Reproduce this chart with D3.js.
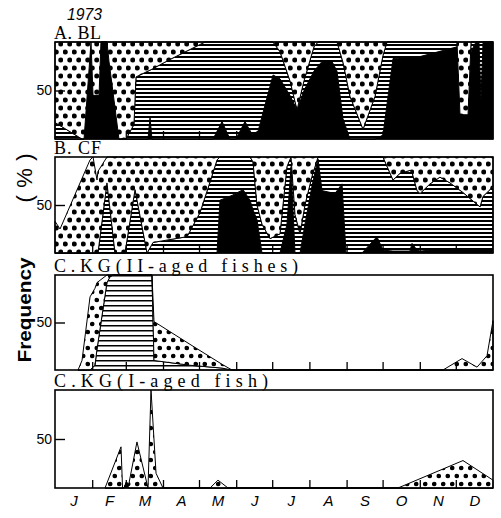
<!DOCTYPE html>
<html>
<head>
<meta charset="utf-8">
<script src="https://cdnjs.cloudflare.com/ajax/libs/d3/7.8.5/d3.min.js"></script>
<style>
  body { margin: 0; background: #fff; }
</style>
</head>
<body>
<div id="chart"></div>
<script>
// month ticks (day of year) and labels
const monthLabels = ["J","F","M","A","M","J","J","A","S","O","N","D"];
const monthStarts = [0,31,59,90,120,151,181,212,243,273,304,334,365];

// A. BL  (percent of black / hatched / dotted, white = rest)
const blDays  = [0,22.5,24.2,30,31.7,36.7,38.3,43.3,45,49.2,53.3,59.2,65.8,67.5,77.5,79.2,80.8,95.8,125,131.7,139.2,145.8,150.8,158.3,164.2,169.2,181.7,187.5,195.8,201.7,207.5,215.8,219.2,222.5,230.8,235,240,245.8,256.7,266.7,273.3,276.7,281.7,304.2,335,337.5,344.2,346.7,350.8,353.3,355,356.7,365];
const blBlack = [0,0,0,100,45,45,100,100,80,40,0,0,0,0,0,22,0,0,0,0,18,0,0,18,5,8,66,62,45,30,50,70,75,80,80,70,21,0,0,0,4,36,83,85,95,25,25,90,100,100,40,100,100];
const blHatch = [17,0,0,0,0,0,0,0,0,0,0,0,15,64,70,49,72,82,100,100,82,100,100,82,95,92,34,28,15,0,10,25,25,20,20,30,58,44,10,44,82,64,17,15,5,0,0,10,0,0,60,0,0];
const blDots  = [83,100,100,0,55,55,0,0,20,60,100,100,85,36,30,29,28,18,0,0,0,0,0,0,0,0,0,10,40,70,40,5,0,0,0,0,21,56,90,56,14,0,0,0,0,75,75,0,0,0,0,0,0];

// B. CF
const cfDays  = [0,4.2,29.2,31.7,35,35.8,43.3,50,58.3,66.7,76.7,81.7,110,120.8,129.2,135,137.5,147.5,156.7,162.5,165,168.3,172.5,179.2,187.5,193.3,196.7,200,204.2,208.3,214.2,219.2,222.5,233.3,239.2,242.5,255.8,268.3,273.3,281.7,287.5,295.8,297.5,301.7,304.2,312.5,320.8,329.2,340,354.2,356.7,362.5,365];
const cfBlack = [0,0,0,0,0,0,0,0,0,0,0,0,0,0,0,0,55,60,66,55,45,35,0,0,0,30,90,0,0,30,70,98,65,62,72,0,0,17,3,2,2,2,10,3,2,3,3,3,4,4,3,3,3];
const cfHatch = [0,0,0,0,0,0,73,0,0,66,0,11,17,42,74,97,45,40,34,45,50,15,30,15,20,60,10,40,20,20,10,2,35,38,28,100,100,83,97,74,81,84,74,62,60,69,76,70,59,44,56,63,67];
const cfDots  = [33,25,97,100,76,85,27,100,100,34,100,89,83,58,26,3,0,0,0,0,5,50,70,85,80,10,0,60,80,50,20,0,0,0,0,0,0,0,0,24,17,14,16,35,38,28,21,27,37,52,41,34,30];

// C. KG (II-aged fishes)
const kg2Days  = [19.2,22.5,29.2,33.3,35,43.3,45.8,48.3,80.8,82.5,112.5,139.2,147.5,323.3,339.2,351.7,360,365];
const kg2Hatch = [0,0,0,5,22,92,98,100,100,10,5,2,0,0,0,0,0,0];
const kg2Dots  = [0,10,77,81,70,8,2,0,0,41,22,4,0,0,12,3,15,52];

// C. KG (I-aged fish)
const kg1Days  = [41.7,55,56.3,57.5,59.5,61.5,68.3,77.5,80,84.2,90,129.2,135.8,144.2,285.8,340,365];
const kg1Black = [0,0,0,0,6,0,0,0,0,0,0,0,0,0,0,0,0];
const kg1Dots  = [0,42,0,0,0,4,47,0,100,15,0,0,8,0,0,28,8];

const W = 501, H = 518;
const left = 55, right = 493;

const svg = d3.select("#chart").append("svg")
    .attr("width", W)
    .attr("height", H)
    .style("font-family", "'Liberation Sans', Arial, sans-serif");

const defs = svg.append("defs");

// dotted fill
function dotPattern(id, w, h, r) {
  const p = defs.append("pattern").attr("id", id)
      .attr("patternUnits", "userSpaceOnUse").attr("width", w).attr("height", h);
  p.append("rect").attr("width", w).attr("height", h).attr("fill", "#fff");
  p.append("circle").attr("cx", w / 4).attr("cy", h / 4).attr("r", r).attr("fill", "#000");
  p.append("circle").attr("cx", w * 3 / 4).attr("cy", h * 3 / 4).attr("r", r).attr("fill", "#000");
}
// horizontal line fill
function hatchPattern(id, h, lw) {
  const p = defs.append("pattern").attr("id", id)
      .attr("patternUnits", "userSpaceOnUse").attr("width", 8).attr("height", h);
  p.append("rect").attr("width", 8).attr("height", h).attr("fill", "#fff");
  p.append("rect").attr("y", 0).attr("width", 8).attr("height", lw).attr("fill", "#000");
}
dotPattern("dotsA", 9, 16, 2.5);
dotPattern("dotsC", 9, 16, 2.3);
hatchPattern("hatchA", 4, 2);
hatchPattern("hatchC", 5, 1.5);

const x = d3.scaleLinear().domain([0, 365]).range([left, right]);

const titleFont = "'Liberation Serif', 'DejaVu Serif', serif";

const panels = [
  {title: "A. BL", tw: 47, top: 42, bottom: 139, days: blDays,
   layers: {black: blBlack, hatch: blHatch, dots: blDots}, dotId: "dotsA", hatchId: "hatchA"},
  {title: "B. CF", tw: 47, top: 157, bottom: 253, days: cfDays,
   layers: {black: cfBlack, hatch: cfHatch, dots: cfDots}, dotId: "dotsA", hatchId: "hatchA"},
  {title: "C.KG(II-aged fishes)", tw: 244, top: 275, bottom: 370, days: kg2Days,
   layers: {hatch: kg2Hatch, dots: kg2Dots}, dotId: "dotsC", hatchId: "hatchC"},
  {title: "C.KG(I-aged fish)", tw: 214, top: 390, bottom: 488, days: kg1Days,
   layers: {black: kg1Black, dots: kg1Dots}, dotId: "dotsC", hatchId: "hatchC"}
];

panels.forEach((pn, pi) => {
  const y = d3.scaleLinear().domain([0, 100]).range([pn.bottom, pn.top]);
  const keys = ["black", "hatch", "dots"].filter(k => pn.layers[k]);
  const rows = pn.days.map((d, i) => {
    const r = {day: d};
    keys.forEach(k => r[k] = pn.layers[k][i]);
    return r;
  });
  const series = d3.stack().keys(keys)(rows);
  const area = d3.area()
      .x(d => x(d.data.day))
      .y0(d => y(d[0]))
      .y1(d => y(d[1]));
  const fills = {black: "#000", hatch: `url(#${pn.hatchId})`, dots: `url(#${pn.dotId})`};

  const g = svg.append("g");
  g.selectAll("path.layer")
    .data(series)
    .enter().append("path")
      .attr("class", "layer")
      .attr("d", area)
      .attr("fill", d => fills[d.key])
      .attr("stroke", "#000")
      .attr("stroke-width", 1);

  // month ticks inside the bottom edge
  g.append("g")
    .attr("transform", `translate(0,${pn.bottom})`)
    .call(d3.axisBottom(x).tickValues(monthStarts.slice(1, 12)).tickSize(-8).tickFormat(""))
    .call(a => a.select(".domain").remove())
    .selectAll("line").attr("stroke-width", 1.3);

  // frame
  g.append("rect")
    .attr("x", left).attr("y", pn.top)
    .attr("width", right - left).attr("height", pn.bottom - pn.top)
    .attr("fill", "none").attr("stroke", "#000").attr("stroke-width", 1.6);

  // 50 tick
  const ax = g.append("g")
    .attr("transform", `translate(${left},0)`)
    .call(d3.axisLeft(y).tickValues([50]).tickSizeInner(-10).tickSizeOuter(0).tickPadding(3));
  ax.select(".domain").remove();
  ax.selectAll("line").attr("stroke-width", 1.4);
  ax.selectAll("text")
    .attr("font-family", "'Liberation Sans', Arial, sans-serif")
    .attr("font-size", 14)
    .attr("fill", "#000");

  // panel title
  svg.append("text")
    .attr("x", left - 1)
    .attr("y", pn.top - 3)
    .attr("font-family", titleFont)
    .attr("font-size", 18)
    .attr("textLength", pn.tw)
    .attr("lengthAdjust", "spacing")
    .attr("fill", "#000")
    .text(pn.title);
});

// month labels under the last panel
const monthMids = monthStarts.slice(0, 12).map((d, i) => (d + monthStarts[i + 1]) / 2);
const xa = svg.append("g")
  .attr("transform", `translate(0,${panels[3].bottom})`)
  .call(d3.axisBottom(x).tickValues(monthMids).tickSize(0).tickPadding(7)
        .tickFormat((d, i) => monthLabels[i]));
xa.select(".domain").remove();
xa.selectAll("text")
  .attr("font-family", "'Liberation Sans', Arial, sans-serif")
  .attr("font-style", "italic")
  .attr("font-size", 15)
  .attr("fill", "#000");

// year
svg.append("text")
  .attr("x", 67).attr("y", 20)
  .attr("font-style", "italic")
  .attr("font-size", 17)
  .attr("textLength", 35)
  .attr("lengthAdjust", "spacingAndGlyphs")
  .text("1973");

// axis titles
svg.append("text")
  .attr("transform", "translate(32,178) rotate(-90)")
  .attr("text-anchor", "middle")
  .attr("font-size", 22)
  .attr("textLength", 49)
  .attr("lengthAdjust", "spacing")
  .text("(%)");

svg.append("text")
  .attr("transform", "translate(31,310) rotate(-90)")
  .attr("text-anchor", "middle")
  .attr("font-size", 18)
  .attr("font-weight", "bold")
  .attr("textLength", 105)
  .attr("lengthAdjust", "spacingAndGlyphs")
  .text("Frequency");
</script>
</body>
</html>
